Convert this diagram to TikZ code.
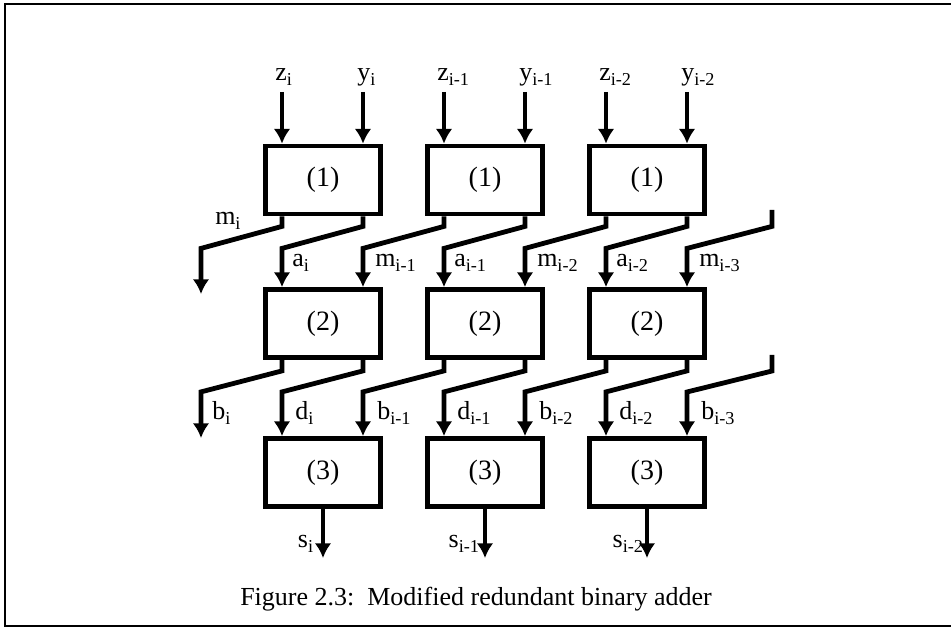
\documentclass[tikz,border=0pt]{standalone}
\usepackage{fontspec}
\setmainfont{Liberation Serif}
\usetikzlibrary{arrows.meta,calc}
\begin{document}
\begin{tikzpicture}[x=0.75pt,y=-0.75pt,
  blk/.style={draw,line width=3.6pt,minimum width=86.4pt,minimum height=51pt,
    inner sep=0pt,font=\fontsize{21}{24}\selectfont},
  wire/.style={line width=3.6pt},
  arr/.style={wire,-{Latex[length=11pt,width=12.5pt]}},
  lbl/.style={inner sep=0pt,font=\fontsize{19.5}{22}\selectfont},
  captext/.style={inner sep=0pt,font=\fontsize{19.5}{23}\selectfont},
]
\useasboundingbox (0,0) rectangle (951,630);
% page frame
\draw[line width=2pt] (951,4) -- (5,4) -- (5,626) -- (951,626);

% three columns of cells
\foreach \c in {0,1,2} {
  \pgfmathsetmacro\cx{323+162*\c}
  \coordinate (L\c) at (\cx-41,0);
  \coordinate (R\c) at (\cx+40,0);
  \node[blk] (b1\c) at (\cx,180)   {(1)};
  \node[blk] (b2\c) at (\cx,323.5) {(2)};
  \node[blk] (b3\c) at (\cx,472.5) {(3)};
  \coordinate (zin\c) at (\cx-41,92);
  \coordinate (yin\c) at (\cx+40,92);
  \coordinate (sout\c) at (\cx,558);
  % inputs into (1)
  \draw[arr] (zin\c) -- (b1\c.north -| L\c);
  \draw[arr] (yin\c) -- (b1\c.north -| R\c);
  % a and d: same column
  \draw[arr] (b1\c.south -| R\c) -- ++(0,10) -- ++(-81,22) -- (b2\c.north -| L\c);
  \draw[arr] (b2\c.south -| R\c) -- ++(0,11) -- ++(-81,21) -- (b3\c.north -| L\c);
  % sum output
  \draw[arr] (b3\c.south) -- (sout\c);
}
% m and b: passed to the next column on the left
\foreach \c/\p in {1/0,2/1} {
  \draw[arr] (b1\c.south -| L\c) -- ++(0,10) -- ++(-81,22) -- (b2\p.north -| R\p);
  \draw[arr] (b2\c.south -| L\c) -- ++(0,11) -- ++(-81,21) -- (b3\p.north -| R\p);
}
% leftmost outputs
\coordinate (mout) at (201,294);
\coordinate (bout) at (201,438);
\draw[arr] (b10.south -| L0) -- ++(0,10) -- ++(-81,22) -- (mout);
\draw[arr] (b20.south -| L0) -- ++(0,11) -- ++(-81,21) -- (bout);
% incoming from the right
\coordinate (min) at (772,210);
\coordinate (bin) at (772,355);
\draw[arr] (min) -- ++(0,16.4) -- ++(-85,22) -- (b22.north -| R2);
\draw[arr] (bin) -- ++(0,16) -- ++(-85,21) -- (b32.north -| R2);

% input labels
\node[lbl,anchor=base west] (lz0) at (275,81) {z\textsubscript{i}};
\node[lbl,anchor=base west] (ly0) at (357,81) {y\textsubscript{i}};
\node[lbl,anchor=base west] (lz1) at (437,81) {z\textsubscript{i-1}};
\node[lbl,anchor=base west] (ly1) at (519,81) {y\textsubscript{i-1}};
\node[lbl,anchor=base west] (lz2) at (599,81) {z\textsubscript{i-2}};
\node[lbl,anchor=base west] (ly2) at (681,81) {y\textsubscript{i-2}};

% labels between (1) and (2)
\node[lbl,anchor=base west] (lm0) at (215,225) {m\textsubscript{i}};
\node[lbl,anchor=base west] (la0) at (292,267) {a\textsubscript{i}};
\node[lbl,anchor=base west] (lm1) at (375,267) {m\textsubscript{i-1}};
\node[lbl,anchor=base west] (la1) at (454,267) {a\textsubscript{i-1}};
\node[lbl,anchor=base west] (lm2) at (537,267) {m\textsubscript{i-2}};
\node[lbl,anchor=base west] (la2) at (616,267) {a\textsubscript{i-2}};
\node[lbl,anchor=base west] (lm3) at (699,267) {m\textsubscript{i-3}};

% labels between (2) and (3)
\node[lbl,anchor=base west] (lb0) at (212,420) {b\textsubscript{i}};
\node[lbl,anchor=base west] (ld0) at (295,420) {d\textsubscript{i}};
\node[lbl,anchor=base west] (lb1) at (377,420) {b\textsubscript{i-1}};
\node[lbl,anchor=base west] (ld1) at (457,420) {d\textsubscript{i-1}};
\node[lbl,anchor=base west] (lb2) at (539,420) {b\textsubscript{i-2}};
\node[lbl,anchor=base west] (ld2) at (619,420) {d\textsubscript{i-2}};
\node[lbl,anchor=base west] (lb3) at (701,420) {b\textsubscript{i-3}};

% sum labels
\node[lbl,anchor=base east] (ls0) at (314,548) {s\textsubscript{i}};
\node[lbl,anchor=base east] (ls1) at (480,548) {s\textsubscript{i-1}};
\node[lbl,anchor=base east] (ls2) at (644,548) {s\textsubscript{i-2}};

% caption
\node[captext,anchor=base] (caption) at (476,606) {Figure 2.3:\ \ Modified redundant binary adder};
\end{tikzpicture}
\end{document}
